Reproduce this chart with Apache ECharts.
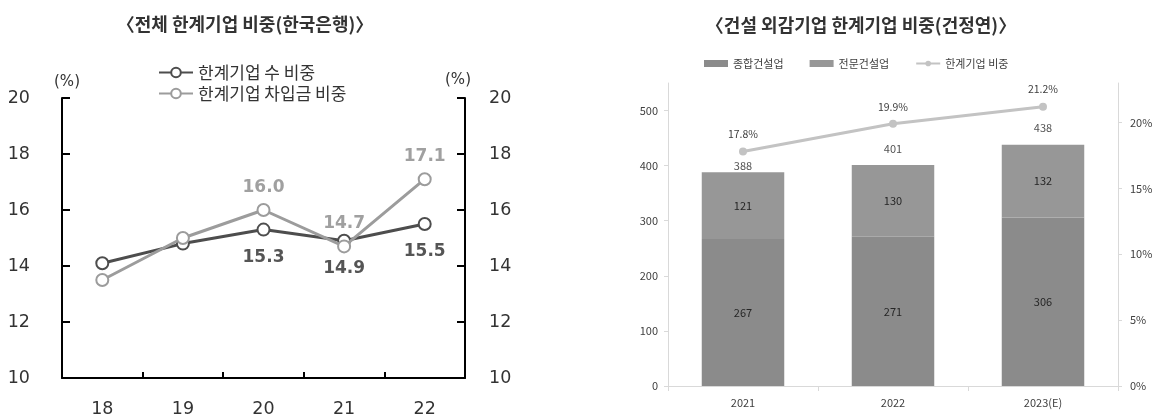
<!DOCTYPE html>
<html>
<head>
<meta charset="utf-8">
<script src="https://cdn.jsdelivr.net/npm/echarts@6/dist/echarts.min.js"></script>
<style>
  html, body { margin: 0; padding: 0; background: #ffffff; }
  #chart { width: 1155px; height: 418px; }
</style>
</head>
<body>
<div id="chart"></div>
<script>
// ---- Left panel: share of marginal firms, all companies (%) ----
const yearLabels = ['18', '19', '20', '21', '22'];
const firmCountShare = [14.1, 14.8, 15.3, 14.9, 15.5];   // 한계기업 수 비중
const borrowingShare = [13.5, 15.0, 16.0, 14.7, 17.1];   // 한계기업 차입금 비중
const shareAxisTicks = [10, 12, 14, 16, 18, 20];

// ---- Right panel: externally audited construction firms ----
const buildYears = ['2021', '2022', '2023(E)'];
const generalContractors = [267, 271, 306];     // 종합건설업
const specialtyContractors = [121, 130, 132];   // 전문건설업
const marginalShare = [17.8, 19.9, 21.2];       // 한계기업 비중 (%)
const countTicks = [0, 100, 200, 300, 400, 500];
const pctTicks = [0, 5, 10, 15, 20];

const totals = generalContractors.map((v, i) => v + specialtyContractors[i]);

const NUM_FONT = 'DejaVu Sans, "Noto Sans CJK KR", sans-serif';
const KR_FONT = '"Noto Sans CJK KR", sans-serif';
const labelFrom = 2; // values are printed from 2020 onward

const chart = echarts.init(document.getElementById('chart'), null, { renderer: 'canvas' });

const blackAxis = { lineStyle: { color: '#000', width: 2 } };
const lightAxis = { lineStyle: { color: '#d9d9d9', width: 1 } };

const option = {
  backgroundColor: '#ffffff',
  animation: false,
  graphic: [
    {
      type: 'text', x: 245, y: 24,
      style: { text: '〈전체 한계기업 비중(한국은행)〉', fill: '#333', font: 'bold 18px "Noto Sans CJK KR"', textAlign: 'center', textVerticalAlign: 'middle' }
    },
    {
      type: 'text', x: 861, y: 25,
      style: { text: '〈건설 외감기업 한계기업 비중(건정연)〉', fill: '#333', font: 'bold 18px "Noto Sans CJK KR"', textAlign: 'center', textVerticalAlign: 'middle' }
    },
    {
      type: 'text', x: 67, y: 82,
      style: { text: '(%)', fill: '#333', font: '15px DejaVu Sans', textAlign: 'center', textVerticalAlign: 'middle' }
    },
    {
      type: 'text', x: 458, y: 80,
      style: { text: '(%)', fill: '#333', font: '15px DejaVu Sans', textAlign: 'center', textVerticalAlign: 'middle' }
    }
  ],
  legend: [
    {
      data: ['한계기업 수 비중', '한계기업 차입금 비중'],
      orient: 'vertical', left: 153, top: 59,
      itemWidth: 34, itemHeight: 12, itemGap: 4,
      textStyle: { fontSize: 17, color: '#333', fontFamily: KR_FONT }
    },
    {
      data: [
        { name: '종합건설업', icon: 'rect' },
        { name: '전문건설업', icon: 'rect' },
        { name: '한계기업 비중' }
      ],
      left: 699, top: 53,
      itemWidth: 24, itemHeight: 7, itemGap: 26,
      textStyle: { fontSize: 11, color: '#404040', fontFamily: KR_FONT }
    }
  ],
  grid: [
    { left: 62, top: 98, width: 403, height: 280, outerBoundsMode: 'none' },
    { left: 668, top: 83, width: 450, height: 303, outerBoundsMode: 'none' }
  ],
  xAxis: [
    {
      type: 'category', gridIndex: 0, data: yearLabels, boundaryGap: true,
      axisLine: blackAxis,
      axisTick: { show: true, inside: true, length: 6, lineStyle: { color: '#000', width: 2 } },
      axisLabel: { fontSize: 17.5, color: '#333', fontFamily: NUM_FONT, margin: 23 },
      splitLine: { show: false }
    },
    {
      type: 'category', gridIndex: 1, data: buildYears, boundaryGap: true,
      axisLine: lightAxis,
      axisTick: { show: true, length: 5, lineStyle: { color: '#d9d9d9' } },
      axisLabel: { fontSize: 11, color: '#404040', fontFamily: KR_FONT, margin: 11 },
      splitLine: { show: false }
    }
  ],
  yAxis: [
    {
      type: 'value', gridIndex: 0, position: 'left', min: 10, max: 20, interval: 2,
      axisLine: { show: true, ...blackAxis },
      axisTick: { show: true, inside: true, length: 8, lineStyle: { color: '#000', width: 2 } },
      axisLabel: { fontSize: 17.5, color: '#333', fontFamily: NUM_FONT, margin: 32,
                   customValues: shareAxisTicks },
      splitLine: { show: false }
    },
    {
      type: 'value', gridIndex: 1, position: 'left', min: 0, max: 550, interval: 100,
      axisLine: { show: true, ...lightAxis },
      axisTick: { show: true, length: 4, lineStyle: { color: '#d9d9d9' }, customValues: countTicks },
      axisLabel: { fontSize: 11, color: '#404040', fontFamily: KR_FONT, margin: 10, customValues: countTicks },
      splitLine: { show: false }
    },
    {
      type: 'value', gridIndex: 1, position: 'right', min: 0, max: 23, interval: 5,
      axisLine: { show: true, ...lightAxis },
      axisTick: { show: true, length: 4, lineStyle: { color: '#d9d9d9' }, customValues: pctTicks },
      axisLabel: { fontSize: 11, color: '#404040', fontFamily: KR_FONT, margin: 12,
                   customValues: pctTicks, formatter: '{value}%' },
      splitLine: { show: false }
    },
    {
      type: 'value', gridIndex: 0, position: 'right', min: 10, max: 20, interval: 2,
      axisLine: { show: true, ...blackAxis },
      axisTick: { show: true, inside: true, length: 8, lineStyle: { color: '#000', width: 2 } },
      axisLabel: { fontSize: 17.5, color: '#333', fontFamily: NUM_FONT, margin: 24,
                   customValues: shareAxisTicks },
      splitLine: { show: false }
    }
  ],
  series: [
    {
      name: '한계기업 수 비중', type: 'line', xAxisIndex: 0, yAxisIndex: 0,
      data: firmCountShare,
      symbol: 'emptyCircle', symbolSize: 12, showAllSymbol: true,
      lineStyle: { color: '#4d4d4d', width: 3 },
      itemStyle: { color: '#4d4d4d', borderColor: '#4d4d4d', borderWidth: 3 },
      label: {
        show: true, position: 'bottom', distance: 12,
        formatter: p => (p.dataIndex >= labelFrom ? p.value.toFixed(1) : ''),
        color: '#555', fontSize: 17, fontWeight: 'bold', fontFamily: NUM_FONT
      },
      z: 3
    },
    {
      name: '한계기업 차입금 비중', type: 'line', xAxisIndex: 0, yAxisIndex: 0,
      data: borrowingShare,
      symbol: 'emptyCircle', symbolSize: 12, showAllSymbol: true,
      lineStyle: { color: '#9c9c9c', width: 3 },
      itemStyle: { color: '#9c9c9c', borderColor: '#9c9c9c', borderWidth: 3 },
      label: {
        show: true, position: 'top', distance: 7,
        formatter: p => (p.dataIndex >= labelFrom ? p.value.toFixed(1) : ''),
        color: '#a0a0a0', fontSize: 17, fontWeight: 'bold', fontFamily: NUM_FONT
      },
      z: 4
    },
    {
      name: '종합건설업', type: 'bar', xAxisIndex: 1, yAxisIndex: 1, stack: 'firms',
      data: generalContractors, barWidth: '55%',
      itemStyle: { color: '#8b8b8b' },
      label: { show: true, position: 'inside', color: '#262626', fontSize: 11, fontFamily: KR_FONT }
    },
    {
      name: '전문건설업', type: 'bar', xAxisIndex: 1, yAxisIndex: 1, stack: 'firms',
      data: specialtyContractors, barWidth: '55%',
      itemStyle: { color: '#979797' },
      label: { show: true, position: 'inside', color: '#262626', fontSize: 11, fontFamily: KR_FONT }
    },
    {
      // stack totals printed above each bar
      name: '합계', type: 'scatter', xAxisIndex: 1, yAxisIndex: 1,
      data: totals.map((v, i) => ({ value: v, label: { distance: i === 0 ? 0 : 10 } })),
      symbolSize: 2, itemStyle: { color: 'rgba(0,0,0,0)' }, silent: true,
      label: { show: true, position: 'top', color: '#262626', fontSize: 11, fontFamily: KR_FONT },
      z: 4
    },
    {
      name: '한계기업 비중', type: 'line', xAxisIndex: 1, yAxisIndex: 2,
      data: marginalShare,
      symbol: 'circle', symbolSize: 8,
      lineStyle: { color: '#c3c3c3', width: 3 },
      itemStyle: { color: '#c3c3c3' },
      label: {
        show: true, position: 'top', distance: 8,
        formatter: p => p.value.toFixed(1) + '%',
        color: '#404040', fontSize: 10.5, fontFamily: KR_FONT
      },
      z: 5
    }
  ]
};

chart.setOption(option);
</script>
</body>
</html>
